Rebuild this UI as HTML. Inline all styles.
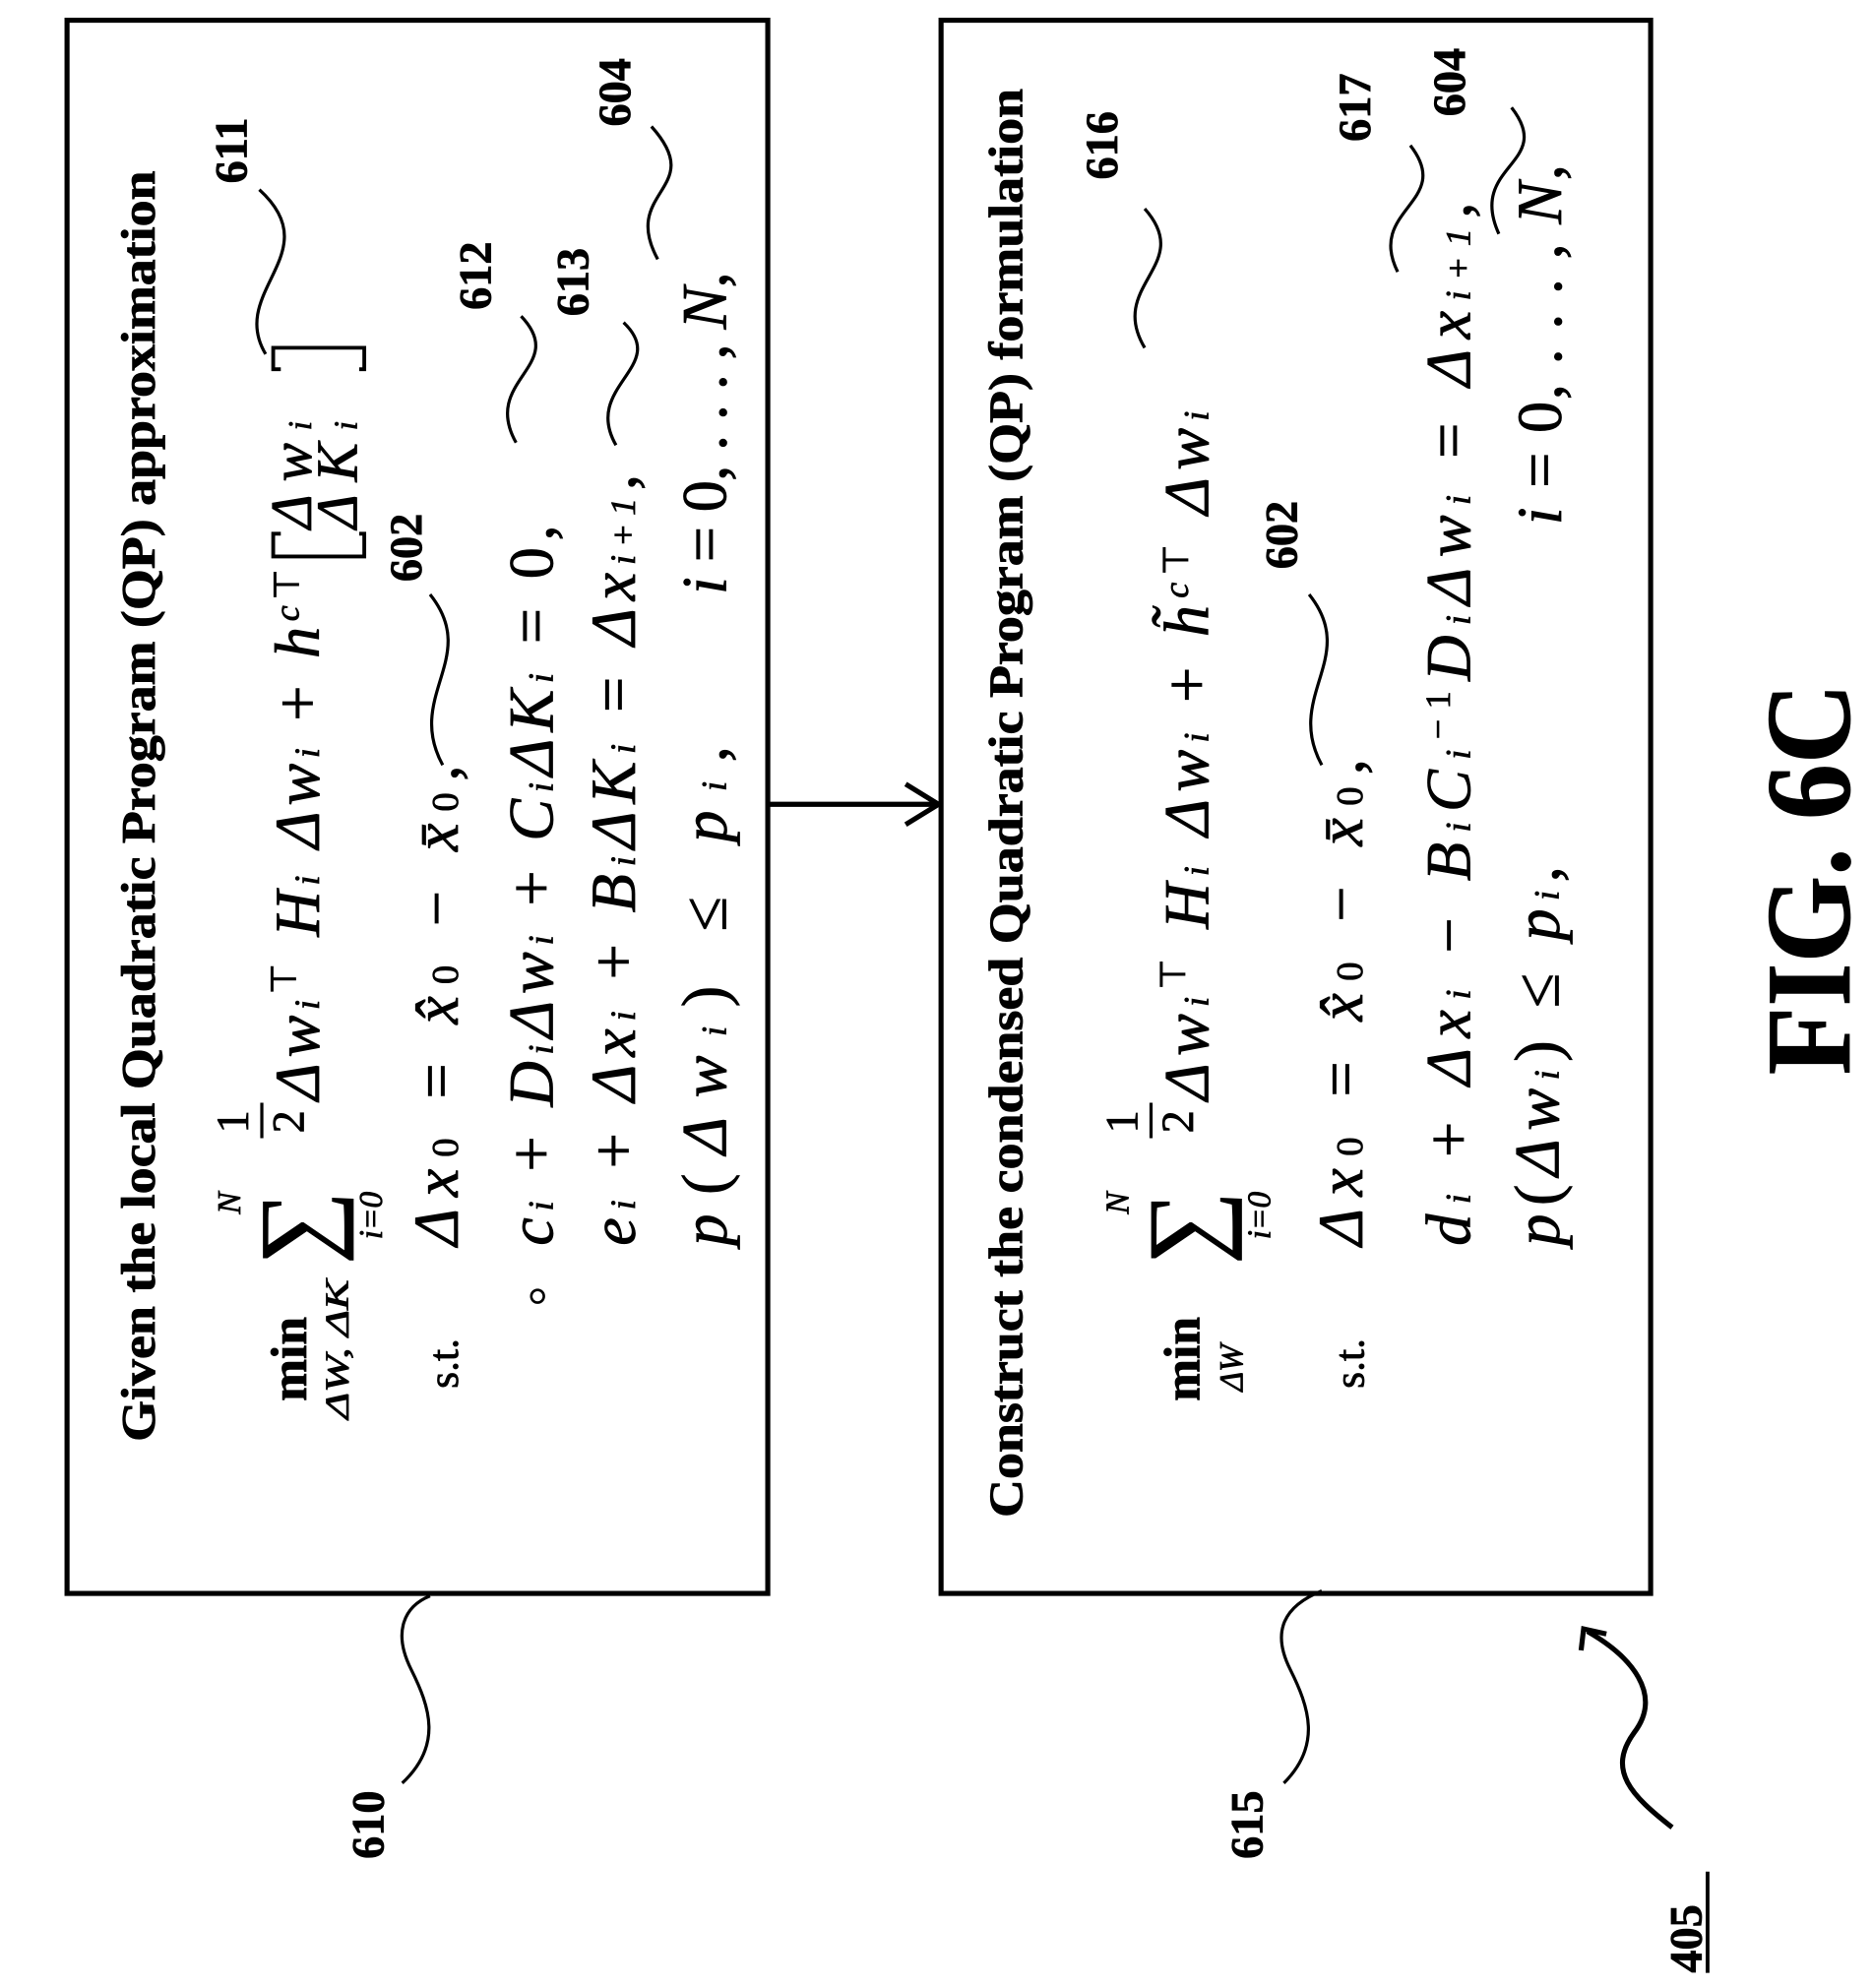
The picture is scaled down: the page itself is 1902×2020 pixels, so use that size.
<!DOCTYPE html>
<html><head><meta charset="utf-8">
<style>
html,body{margin:0;padding:0;background:#fff;}
svg{display:block;}
text{font-family:"Liberation Serif",serif;fill:#000;stroke:#000;stroke-width:0.6;}
.b{font-weight:bold;}
.m{font-style:italic;}
</style></head>
<body>
<svg width="1902" height="2020" viewBox="0 0 1480 1572" preserveAspectRatio="none">
<g fill="none" stroke="#000">
<rect x="53" y="16" width="554" height="1244" stroke-width="4"/>
<rect x="744" y="16" width="561" height="1244" stroke-width="4"/>
<line x1="607" y1="636" x2="742" y2="636" stroke-width="4"/>
<polyline points="716,620 742,636 716,652" stroke-width="4"/>
<path d="M222,422 L216,422 L216,440 L288,440 L288,422 L284,422" stroke-width="3"/>
<path d="M222,292 L216,292 L216,275 L288,275 L288,292 L284,292" stroke-width="3"/>
<line x1="207" y1="872" x2="207" y2="900" stroke-width="2.5"/>
<line x1="910" y1="872" x2="910" y2="900" stroke-width="2.5"/>
<g stroke-width="2.5">
<path d="M210,280 C180,230 260,200 205,150"/>
<path d="M408,350 C380,300 450,290 412,250"/>
<path d="M487,352 C460,305 530,290 493,255"/>
<path d="M520,205 C490,150 560,150 515,100"/>
<path d="M350,605 C320,550 380,520 340,470"/>
<path d="M905,275 C875,225 945,210 905,165"/>
<path d="M1105,215 C1080,165 1150,160 1115,115"/>
<path d="M1185,185 C1160,130 1230,130 1195,85"/>
<path d="M1045,605 C1015,550 1075,520 1035,470"/>
<path d="M318,1410 C350,1380 340,1350 325,1320 C310,1290 320,1270 340,1262"/>
<path d="M1015,1410 C1045,1380 1035,1350 1020,1320 C1005,1290 1015,1270 1045,1258"/>
<path d="M1322,1445 C1290,1420 1270,1400 1292,1370 C1315,1340 1290,1310 1255,1290" stroke-width="4"/>
<polyline points="1250,1305 1252,1288 1270,1292" stroke-width="4"/>
</g>
</g>
<circle cx="425" cy="1025" r="5" fill="none" stroke="#000" stroke-width="2"/>

<!-- Box 1 text -->
<text class="b" font-size="38" textLength="1005" lengthAdjust="spacingAndGlyphs" transform="translate(122,1140) rotate(-90)">Given the local Quadratic Program (QP) approximation</text>
<text class="b" font-size="40" transform="translate(242,1108) rotate(-90)">min</text>
<text class="m" font-size="26" textLength="110" lengthAdjust="spacingAndGlyphs" transform="translate(275,1122) rotate(-90)">ΔW, ΔK</text>
<text font-size="82" transform="translate(262,1000) rotate(-90)">∑</text>
<text font-size="36" transform="translate(196,896) rotate(-90)">1</text>
<text font-size="36" transform="translate(240,896) rotate(-90)">2</text>
<text class="m" font-size="50" textLength="420" lengthAdjust="spacing" transform="translate(252,870) rotate(-90)">Δw<tspan font-size="28">i</tspan><tspan font-size="28" font-style="normal" dy="-18">⊤</tspan><tspan dy="18"> H</tspan><tspan font-size="28">i</tspan> Δw<tspan font-size="28">i</tspan><tspan font-style="normal"> + </tspan>h<tspan font-size="28" dy="-16">c</tspan><tspan font-size="28" font-style="normal">⊤</tspan></text>
<text class="m" font-size="46" textLength="85" lengthAdjust="spacing" transform="translate(246,418) rotate(-90)">Δw<tspan font-size="26">i</tspan></text>
<text class="m" font-size="46" textLength="85" lengthAdjust="spacing" transform="translate(282,418) rotate(-90)">ΔK<tspan font-size="26">i</tspan></text>
<text class="m" font-size="26" transform="translate(190,960) rotate(-90)">N</text>
<text class="m" font-size="26" transform="translate(302,980) rotate(-90)">i=0</text>
<text font-size="34" transform="translate(362,1098) rotate(-90)">s.t.</text>
<text class="m" font-size="50" textLength="380" lengthAdjust="spacing" transform="translate(362,985) rotate(-90)">Δx<tspan font-size="30" font-style="normal">0</tspan><tspan font-style="normal"> = </tspan>x̂<tspan font-size="30" font-style="normal">0</tspan><tspan font-style="normal"> − </tspan>x̄<tspan font-size="30" font-style="normal">0</tspan><tspan font-style="normal">,</tspan></text>
<text class="m" font-size="50" textLength="570" lengthAdjust="spacing" transform="translate(437,985) rotate(-90)">c<tspan font-size="28">i</tspan><tspan font-style="normal"> + </tspan>D<tspan font-size="28">i</tspan>Δw<tspan font-size="28">i</tspan><tspan font-style="normal"> + </tspan>C<tspan font-size="28">i</tspan>ΔK<tspan font-size="28">i</tspan><tspan font-style="normal"> = 0,</tspan></text>
<text class="m" font-size="50" textLength="610" lengthAdjust="spacing" transform="translate(502,985) rotate(-90)">e<tspan font-size="28">i</tspan><tspan font-style="normal"> + </tspan>Δx<tspan font-size="28">i</tspan><tspan font-style="normal"> + </tspan>B<tspan font-size="28">i</tspan>ΔK<tspan font-size="28">i</tspan><tspan font-style="normal"> = </tspan>Δx<tspan font-size="28">i+1</tspan><tspan font-style="normal">,</tspan></text>
<text class="m" font-size="50" textLength="395" lengthAdjust="spacing" transform="translate(574,985) rotate(-90)">p<tspan font-style="normal">(</tspan>Δw<tspan font-size="28">i</tspan><tspan font-style="normal">) ≤ </tspan>p<tspan font-size="28">i</tspan><tspan font-style="normal">,</tspan></text>
<text class="m" font-size="50" textLength="255" lengthAdjust="spacing" transform="translate(574,470) rotate(-90)">i<tspan font-style="normal"> = 0, . . . , </tspan>N<tspan font-style="normal">,</tspan></text>

<!-- Box 2 text -->
<text class="b" font-size="38" textLength="1130" lengthAdjust="spacingAndGlyphs" transform="translate(808,1200) rotate(-90)">Construct the condensed Quadratic Program (QP) formulation</text>
<text class="b" font-size="40" transform="translate(948,1108) rotate(-90)">min</text>
<text class="m" font-size="26" transform="translate(982,1100) rotate(-90)">ΔW</text>
<text font-size="82" transform="translate(964,1000) rotate(-90)">∑</text>
<text font-size="36" transform="translate(899,896) rotate(-90)">1</text>
<text font-size="36" transform="translate(943,896) rotate(-90)">2</text>
<text class="m" font-size="50" textLength="545" lengthAdjust="spacing" transform="translate(955,870) rotate(-90)">Δw<tspan font-size="28">i</tspan><tspan font-size="28" font-style="normal" dy="-18">⊤</tspan><tspan dy="18"> H</tspan><tspan font-size="28">i</tspan> Δw<tspan font-size="28">i</tspan><tspan font-style="normal"> + </tspan>h̃<tspan font-size="28" dy="-16">c</tspan><tspan font-size="28" font-style="normal">⊤</tspan><tspan dy="16"> Δw</tspan><tspan font-size="28">i</tspan></text>
<text class="m" font-size="26" transform="translate(892,960) rotate(-90)">N</text>
<text class="m" font-size="26" transform="translate(1004,980) rotate(-90)">i=0</text>
<text font-size="34" transform="translate(1078,1098) rotate(-90)">s.t.</text>
<text class="m" font-size="50" textLength="385" lengthAdjust="spacing" transform="translate(1077,985) rotate(-90)">Δx<tspan font-size="30" font-style="normal">0</tspan><tspan font-style="normal"> = </tspan>x̂<tspan font-size="30" font-style="normal">0</tspan><tspan font-style="normal"> − </tspan>x̄<tspan font-size="30" font-style="normal">0</tspan><tspan font-style="normal">,</tspan></text>
<text class="m" font-size="50" textLength="825" lengthAdjust="spacing" transform="translate(1162,985) rotate(-90)">d<tspan font-size="28">i</tspan><tspan font-style="normal"> + </tspan>Δx<tspan font-size="28">i</tspan><tspan font-style="normal"> − </tspan>B<tspan font-size="28">i</tspan>C<tspan font-size="28">i</tspan><tspan font-size="28" dy="-16" font-style="normal">−1</tspan><tspan dy="16">D</tspan><tspan font-size="28">i</tspan>Δw<tspan font-size="28">i</tspan><tspan font-style="normal"> = </tspan>Δx<tspan font-size="28">i+1</tspan><tspan font-style="normal">,</tspan></text>
<text class="m" font-size="50" textLength="300" lengthAdjust="spacing" transform="translate(1232,985) rotate(-90)">p<tspan font-style="normal">(</tspan>Δw<tspan font-size="28">i</tspan><tspan font-style="normal">) ≤ </tspan>p<tspan font-size="28">i</tspan><tspan font-style="normal">,</tspan></text>
<text class="m" font-size="50" textLength="285" lengthAdjust="spacing" transform="translate(1234,415) rotate(-90)">i<tspan font-style="normal"> = 0, . . . , </tspan>N<tspan font-style="normal">,</tspan></text>

<!-- Reference numerals -->
<g font-size="36">
<text class="b" transform="translate(195,145) rotate(-90)">611</text>
<text class="b" transform="translate(388,245) rotate(-90)">612</text>
<text class="b" transform="translate(465,250) rotate(-90)">613</text>
<text class="b" transform="translate(498,100) rotate(-90)">604</text>
<text class="b" transform="translate(333,460) rotate(-90)">602</text>
<text class="b" transform="translate(883,142) rotate(-90)">616</text>
<text class="b" transform="translate(1083,112) rotate(-90)">617</text>
<text class="b" transform="translate(1158,92) rotate(-90)">604</text>
<text class="b" transform="translate(1025,450) rotate(-90)">602</text>
<text class="b" transform="translate(303,1470) rotate(-90)">610</text>
<text class="b" transform="translate(998,1470) rotate(-90)">615</text>
<text class="b" transform="translate(1345,1560) rotate(-90)">405</text>
</g>
<line x1="1350" y1="1480" x2="1350" y2="1560" stroke="#000" stroke-width="3"/>
<text class="b" font-size="96" textLength="310" lengthAdjust="spacingAndGlyphs" transform="translate(1462,850) rotate(-90)">FIG. 6C</text>
</svg>
</body></html>
